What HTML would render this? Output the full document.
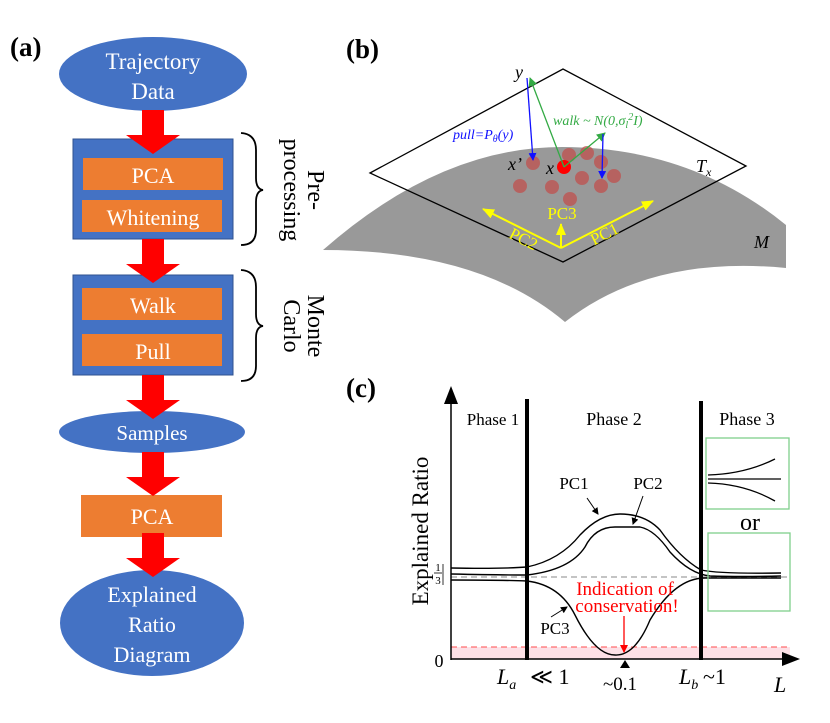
<!DOCTYPE html>
<html><head><meta charset="utf-8"><style>
html,body{margin:0;padding:0;background:#fff;}
svg{display:block;font-family:"Liberation Serif",serif;}
</style></head><body>
<svg width="830" height="723" viewBox="0 0 830 723" xmlns="http://www.w3.org/2000/svg">
<defs>
<g id="rarrow"><rect x="-11" y="0" width="22" height="26" fill="#ff0000"/><polygon points="-27,25 27,25 0,44" fill="#ff0000"/></g>
<marker id="mb" markerWidth="8" markerHeight="8" refX="7" refY="4" orient="auto" markerUnits="userSpaceOnUse"><path d="M0,0 L8,4 L0,8 Z" fill="#1010ff"/></marker>
<marker id="mg" markerWidth="9" markerHeight="9" refX="8" refY="4.5" orient="auto" markerUnits="userSpaceOnUse"><path d="M0,0 L9,4.5 L0,9 Z" fill="#33aa44"/></marker>
<marker id="my" markerWidth="12" markerHeight="10" refX="11" refY="5" orient="auto" markerUnits="userSpaceOnUse"><path d="M0,0 L12,5 L0,10 Z" fill="#ffff00"/></marker>
<marker id="mk" markerWidth="7" markerHeight="7" refX="6" refY="3.5" orient="auto" markerUnits="userSpaceOnUse"><path d="M0,0 L7,3.5 L0,7 Z" fill="#000"/></marker>
<marker id="mr" markerWidth="8" markerHeight="8" refX="7" refY="4" orient="auto" markerUnits="userSpaceOnUse"><path d="M0,0 L8,4 L0,8 Z" fill="#ff0000"/></marker>
</defs>

<!-- Panel (a) -->
<text x="10" y="56" font-size="27" font-weight="bold">(a)</text>
<ellipse cx="153" cy="74" rx="94" ry="37" fill="#4472c4"/>
<text x="153" y="69" font-size="23" fill="#fff" text-anchor="middle">Trajectory</text>
<text x="153" y="99" font-size="23" fill="#fff" text-anchor="middle">Data</text>
<rect x="73" y="139" width="160" height="100" fill="#4472c4" stroke="#2f528f" stroke-width="1"/>
<use href="#rarrow" x="153" y="110"/>
<rect x="83" y="158" width="140" height="32" fill="#ed7d31"/>
<text x="153" y="183" font-size="22" fill="#fff" text-anchor="middle">PCA</text>
<rect x="82" y="200" width="140" height="32" fill="#ed7d31"/>
<text x="153" y="225" font-size="22" fill="#fff" text-anchor="middle">Whitening</text>
<path d="M241,133 Q256,134 256,150 L256,178 Q256,189 263,190 Q256,191 256,202 L256,230 Q256,245 241,245" fill="none" stroke="#000" stroke-width="1.8"/>
<text transform="translate(300,190) rotate(90)" font-size="24" text-anchor="middle" y="-8">Pre-</text>
<text transform="translate(300,190) rotate(90)" font-size="24" text-anchor="middle" y="16">processing</text>
<rect x="73" y="275" width="160" height="100" fill="#4472c4" stroke="#2f528f" stroke-width="1"/>
<use href="#rarrow" x="153" y="239"/>
<rect x="82" y="288" width="140" height="32" fill="#ed7d31"/>
<text x="153" y="313" font-size="22" fill="#fff" text-anchor="middle">Walk</text>
<rect x="82" y="334" width="140" height="32" fill="#ed7d31"/>
<text x="153" y="359" font-size="22" fill="#fff" text-anchor="middle">Pull</text>
<path d="M241,270 Q256,271 256,287 L256,314 Q256,325 263,326 Q256,327 256,338 L256,366 Q256,381 241,381" fill="none" stroke="#000" stroke-width="1.8"/>
<text transform="translate(300,326) rotate(90)" font-size="24" text-anchor="middle" y="-8">Monte</text>
<text transform="translate(300,326) rotate(90)" font-size="24" text-anchor="middle" y="16">Carlo</text>
<ellipse cx="152" cy="432" rx="93" ry="21" fill="#4472c4"/>
<use href="#rarrow" x="153" y="375"/>
<text x="152" y="440" font-size="21" fill="#fff" text-anchor="middle">Samples</text>
<rect x="81" y="495" width="141" height="42" fill="#ed7d31"/>
<use href="#rarrow" x="153" y="452"/>
<text x="152" y="524" font-size="22" fill="#fff" text-anchor="middle">PCA</text>
<ellipse cx="152" cy="623" rx="92" ry="53" fill="#4472c4"/>
<use href="#rarrow" x="153" y="533"/>
<text x="152" y="602" font-size="22" fill="#fff" text-anchor="middle">Explained</text>
<text x="152" y="632" font-size="22" fill="#fff" text-anchor="middle">Ratio</text>
<text x="152" y="662" font-size="22" fill="#fff" text-anchor="middle">Diagram</text>

<!-- Panel (b) -->
<text x="346" y="58" font-size="27" font-weight="bold">(b)</text>
<path d="M323,250 Q440,147 562,147 Q690,147 786,225 L786,268 Q650,255 565,322 Q480,250 323,250 Z" fill="#999999"/>
<polygon points="370,173 563,69 746,166 563,262" fill="none" stroke="#000" stroke-width="1.3"/>
<g fill="#c0504d" fill-opacity="0.75">
<circle cx="533" cy="163" r="7"/><circle cx="569" cy="155" r="7"/><circle cx="587" cy="153" r="7"/>
<circle cx="601" cy="162" r="7"/><circle cx="520" cy="186" r="7"/><circle cx="552" cy="187" r="7"/>
<circle cx="582" cy="178" r="7"/><circle cx="614" cy="176" r="7"/><circle cx="601" cy="186" r="7"/>
<circle cx="570" cy="199" r="7"/>
</g>
<circle cx="564" cy="167" r="7" fill="#ff0000"/>
<line x1="564" y1="167" x2="530" y2="78" stroke="#33aa44" stroke-width="1.3" marker-end="url(#mg)"/>
<line x1="564" y1="167" x2="605" y2="133" stroke="#33aa44" stroke-width="1.3" marker-end="url(#mg)"/>
<line x1="527" y1="78" x2="533" y2="160" stroke="#1010ff" stroke-width="1.3" marker-end="url(#mb)"/>
<line x1="603" y1="134" x2="602" y2="178" stroke="#1010ff" stroke-width="1.3" marker-end="url(#mb)"/>
<text x="515" y="78" font-size="18" font-style="italic">y</text>
<text x="508" y="170" font-size="18" font-style="italic">x’</text>
<text x="546" y="174" font-size="18" font-style="italic">x</text>
<text x="696" y="172" font-size="18" font-style="italic">T<tspan font-size="12" dy="4">x</tspan></text>
<text x="754" y="248" font-size="18" font-style="italic">M</text>
<text x="453" y="139" font-size="14" font-style="italic" fill="#1010ff">pull=P<tspan font-size="10" dy="3">θ</tspan><tspan dy="-3">(y)</tspan></text>
<text x="553" y="125" font-size="14" font-style="italic" fill="#33aa44">walk ~ N(0,σ<tspan font-size="10" dy="3">l</tspan><tspan font-size="10" dy="-8">2</tspan><tspan dy="5">I)</tspan></text>
<line x1="561" y1="248" x2="483" y2="209" stroke="#ffff00" stroke-width="2" marker-end="url(#my)"/>
<line x1="561" y1="248" x2="653" y2="201" stroke="#ffff00" stroke-width="2" marker-end="url(#my)"/>
<line x1="561" y1="248" x2="561" y2="224" stroke="#ffff00" stroke-width="2" marker-end="url(#my)"/>
<text x="562" y="219" font-size="17" fill="#ffff00" text-anchor="middle">PC3</text>
<text transform="translate(521,244) rotate(27)" font-size="17" fill="#ffff00" text-anchor="middle">PC2</text>
<text transform="translate(607,239) rotate(-27)" font-size="17" fill="#ffff00" text-anchor="middle">PC1</text>

<!-- Panel (c) -->
<text x="346" y="397" font-size="27" font-weight="bold">(c)</text>
<rect x="451" y="647" width="339" height="12" fill="#fde0e6"/>
<line x1="451" y1="647" x2="790" y2="647" stroke="#ff4d4d" stroke-width="1" stroke-dasharray="6,4"/>
<line x1="451" y1="577" x2="790" y2="577" stroke="#888" stroke-width="1" stroke-dasharray="6,4"/>
<line x1="451" y1="660" x2="451" y2="400" stroke="#000" stroke-width="1.5"/>
<polygon points="451,386 444,404 458,404" fill="#000"/>
<line x1="451" y1="659" x2="785" y2="659" stroke="#000" stroke-width="1.5"/>
<polygon points="800,659 782,652 782,666" fill="#000"/>
<line x1="527" y1="399" x2="527" y2="660" stroke="#000" stroke-width="4"/>
<line x1="701" y1="401" x2="701" y2="660" stroke="#000" stroke-width="4"/>
<text x="493" y="425" font-size="17" text-anchor="middle">Phase 1</text>
<text x="614" y="425" font-size="18" text-anchor="middle">Phase 2</text>
<text x="747" y="425" font-size="18" text-anchor="middle">Phase 3</text>
<g fill="none" stroke="#000" stroke-width="1.4">
<path d="M451,568 Q500,569 527,567 Q560,560 580,535 Q600,514 620,514 Q645,514 660,530 Q680,558 701,570 Q720,574 781,573"/>
<path d="M451,574 Q500,575 527,575 Q570,570 585,547 Q595,527 615,527 L640,527 Q655,530 670,552 Q690,574 710,576 Q740,577 781,576"/>
<path d="M451,580 Q500,580 527,581 Q560,585 575,615 Q595,655 615,655 Q635,656 650,620 Q675,578 705,578 L781,578"/>
</g>
<line x1="587" y1="498" x2="598" y2="514" stroke="#000" stroke-width="1" marker-end="url(#mk)"/>
<line x1="643" y1="496" x2="633" y2="524" stroke="#000" stroke-width="1" marker-end="url(#mk)"/>
<line x1="551" y1="617" x2="567" y2="607" stroke="#000" stroke-width="1" marker-end="url(#mk)"/>
<text x="574" y="489" font-size="17" text-anchor="middle">PC1</text>
<text x="648" y="489" font-size="17" text-anchor="middle">PC2</text>
<text x="555" y="634" font-size="17" text-anchor="middle">PC3</text>
<text x="625" y="595" font-size="19" fill="#ff0000" text-anchor="middle">Indication of</text>
<text x="627" y="612" font-size="19" fill="#ff0000" text-anchor="middle">conservation!</text>
<line x1="624" y1="616" x2="624" y2="652" stroke="#ff0000" stroke-width="1.3" marker-end="url(#mr)"/>
<polygon points="625,660 620,668 630,668" fill="#000"/>
<rect x="706" y="438" width="83" height="71" fill="none" stroke="#7fcf8c" stroke-width="1.3"/>
<path d="M708,475 Q745,474 775,459 M708,479 L781,479 M708,483 Q745,484 775,501" fill="none" stroke="#000" stroke-width="1.3"/>
<text x="750" y="530" font-size="24" text-anchor="middle">or</text>
<rect x="708" y="533" width="82" height="78" fill="none" stroke="#7fcf8c" stroke-width="1.3"/>
<text transform="translate(428,531) rotate(-90)" font-size="23" text-anchor="middle">Explained Ratio</text>
<text x="438" y="571" font-size="11" text-anchor="middle">1</text>
<line x1="434" y1="573" x2="442" y2="573" stroke="#000" stroke-width="0.8"/>
<text x="438" y="584" font-size="11" text-anchor="middle">3</text>
<line x1="443" y1="564" x2="443" y2="585" stroke="#000" stroke-width="0.8"/>
<text x="439" y="667" font-size="18" text-anchor="middle">0</text>
<text x="497" y="684" font-size="22" font-style="italic">L<tspan font-size="14" dy="5">a</tspan></text>
<text x="530" y="684" font-size="22">≪ 1</text>
<text x="620" y="690" font-size="19" text-anchor="middle">~0.1</text>
<text x="679" y="684" font-size="22" font-style="italic">L<tspan font-size="14" dy="5">b</tspan></text>
<text x="703" y="684" font-size="22">~1</text>
<text x="774" y="692" font-size="22" font-style="italic">L</text>
</svg>
</body></html>
